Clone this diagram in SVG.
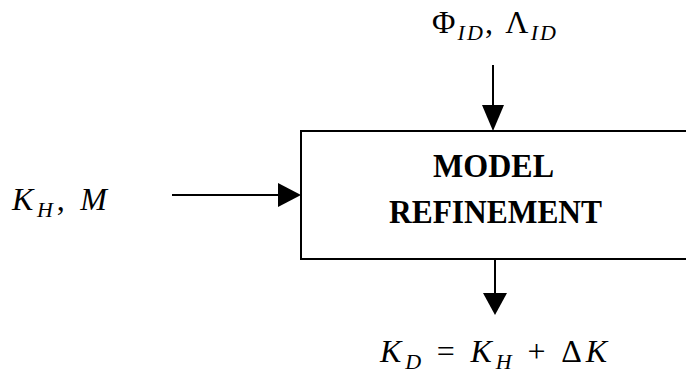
<svg xmlns="http://www.w3.org/2000/svg" width="686" height="382" viewBox="0 0 686 382">
<style>
.ln{stroke:#000;stroke-width:2;fill:none}
.ah{fill:#000}
.math{font-family:"Liberation Serif","DejaVu Serif",serif;font-style:italic;font-size:32px;fill:#000}
.up{font-style:normal}
.sub{font-size:22px}
.lbl{font-family:"Liberation Serif","DejaVu Serif",serif;font-weight:bold;font-size:33px;fill:#000;text-anchor:middle}
</style>
<rect width="686" height="382" fill="#fff"/>
<g id="refinement">
<rect x="301" y="131" width="420" height="128" class="ln"/>
<text x="493.5" y="177" class="lbl" textLength="121" lengthAdjust="spacingAndGlyphs">MODEL</text>
<text x="495.5" y="223" class="lbl" textLength="213" lengthAdjust="spacingAndGlyphs">REFINEMENT</text>
</g>
<g id="input-top">
<text x="432" y="33" class="math" textLength="124"><tspan class="up">Φ</tspan><tspan class="sub" dy="7">ID</tspan><tspan dy="-7" class="up">, Λ</tspan><tspan class="sub" dy="7">ID</tspan></text>
</g>
<g id="input-left">
<text x="12" y="210" class="math" textLength="95">K<tspan class="sub" dy="7">H</tspan><tspan dy="-7" class="up">, </tspan>M</text>
</g>
<g id="output">
<text x="380" y="362" class="math" textLength="227">K<tspan class="sub" dy="7">D</tspan><tspan dy="-7" class="up"> = </tspan>K<tspan class="sub" dy="7">H</tspan><tspan dy="-7" class="up"> + Δ</tspan>K</text>
</g>
<g id="connectors">
<line x1="493" y1="65" x2="493" y2="110" class="ln"/>
<polygon points="482,105 504,105 493,131" class="ah"/>
<line x1="172" y1="195" x2="282" y2="195" class="ln"/>
<polygon points="278,183 278,207 301,195" class="ah"/>
<line x1="495" y1="259" x2="495" y2="296" class="ln"/>
<polygon points="483,293 507,293 495,315" class="ah"/>
</g>
</svg>
